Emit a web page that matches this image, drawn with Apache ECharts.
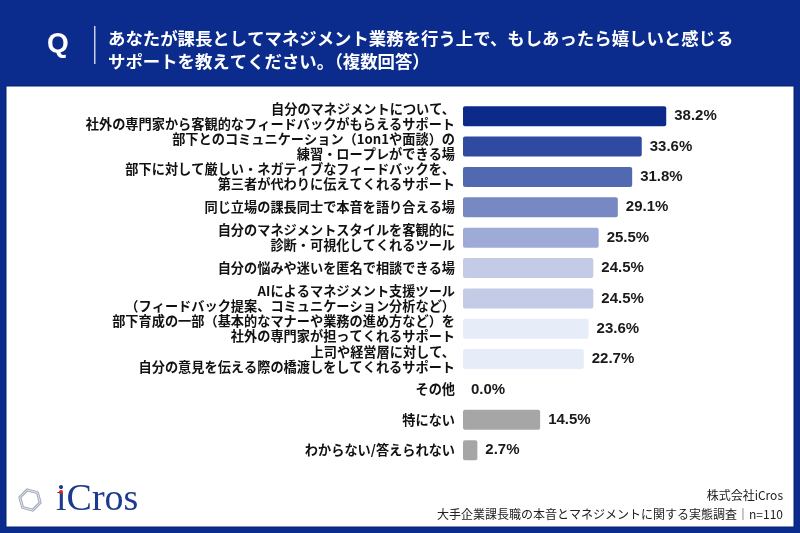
<!DOCTYPE html>
<html>
<head>
<meta charset="utf-8">
<script src="https://cdn.jsdelivr.net/npm/echarts@6/dist/echarts.min.js"></script>
<style>
	html, body { margin: 0; padding: 0; background: #0b2c8c; }
	#chart { width: 800px; height: 533px; }
</style>
</head>
<body>
<div id="chart"></div>
<script>
	const categories = [
		'自分のマネジメントについて、\n社外の専門家から客観的なフィードバックがもらえるサポート',
		'部下とのコミュニケーション（1on1や面談）の\n練習・ロープレができる場',
		'部下に対して厳しい・ネガティブなフィードバックを、\n第三者が代わりに伝えてくれるサポート',
		'同じ立場の課長同士で本音を語り合える場',
		'自分のマネジメントスタイルを客観的に\n診断・可視化してくれるツール',
		'自分の悩みや迷いを匿名で相談できる場',
		'AIによるマネジメント支援ツール\n（フィードバック提案、コミュニケーション分析など）',
		'部下育成の一部（基本的なマナーや業務の進め方など）を\n社外の専門家が担ってくれるサポート',
		'上司や経営層に対して、\n自分の意見を伝える際の橋渡しをしてくれるサポート',
		'その他',
		'特にない',
		'わからない/答えられない'
	]
	const values = [38.2, 33.6, 31.8, 29.1, 25.5, 24.5, 24.5, 23.6, 22.7, 0.0, 14.5, 2.7]
	const barColors = ['#0c2a8a', '#2f4ba1', '#5169b0', '#7888c2', '#9eabd6', '#c3cbe6', '#c3cbe6',
		'#e6ecf8', '#e6ecf8', '#e6ecf8', '#a6a6a6', '#a6a6a6']

	const titleLines = [
		'あなたが課長としてマネジメント業務を行う上で、もしあったら嬉しいと感じる',
		'サポートを教えてください。（複数回答）'
	]
	const footerLines = ['株式会社iCros', '大手企業課長職の本音とマネジメントに関する実態調査｜n=110']

	const jp = '"Noto Sans CJK JP", "Noto Sans", sans-serif'

	// 六角形ロゴの頂点
	const hex = (cx, cy, r) => {
		let pts = []
		for (let i = 0; i < 6; i++) {
			let a = Math.PI / 180 * (60 * i + 15)
			pts.push([cx + r * Math.cos(a), cy + r * Math.sin(a)])
		}
		return pts
	}

	const chart = echarts.init(document.getElementById('chart'))
	const option = {
		backgroundColor: '#0b2c8c',
		animation: false,
		graphic: [
			// 白いパネル
			{ type: 'rect', z: -10, shape: { x: 6, y: 86, width: 788, height: 441 }, style: { fill: '#ffffff', stroke: '#06206e', lineWidth: 1 } },
			{ type: 'text', left: 47, top: 30, style: { text: 'Q', fill: '#fff', font: 'bold 28px "Liberation Sans", sans-serif' } },
			{ type: 'rect', shape: { x: 94, y: 26, width: 1.5, height: 38 }, style: { fill: '#c8d0ee' } },
			{ type: 'text', left: 108, top: 27, style: { text: titleLines.join('\n'), fill: '#fff', font: 'bold 17.4px ' + jp, lineHeight: 23 } },
			// ロゴ
			{ type: 'polygon', shape: { points: hex(30, 500, 10.5) }, style: { fill: 'none', stroke: '#a3abbb', lineWidth: 3, lineJoin: 'round' } },
			{ type: 'polygon', shape: { points: hex(30, 500, 10.5) }, style: { fill: 'none', stroke: '#e4e8f0', lineWidth: 1, lineJoin: 'round' } },
			{ type: 'text', left: 56, top: 481, style: { text: 'iCros', fill: '#1d3a8e', font: '38px "Liberation Serif", "DejaVu Serif", serif' } },
			{ type: 'circle', shape: { cx: 61, cy: 492, r: 2 }, style: { fill: '#e0201a' } },
			{ type: 'text', right: 17, top: 489, style: { text: footerLines[0], fill: '#222', font: '12px ' + jp } },
			{ type: 'text', right: 17, top: 508, style: { text: footerLines[1], fill: '#222', font: '12px ' + jp } }
		],
		grid: { left: 463, top: 101, right: 71, height: 364.4 },
		xAxis: { type: 'value', min: 0, max: 50, show: false },
		yAxis: {
			type: 'category',
			inverse: true,
			data: categories,
			axisLine: { show: false },
			axisTick: { show: false },
			axisLabel: { margin: 8, color: '#111', fontSize: 13.2, fontWeight: 'bold', lineHeight: 15, fontFamily: jp, align: 'right' }
		},
		series: [{
			type: 'bar',
			data: values.map((v, i) => ({ value: v, itemStyle: { color: barColors[i] } })),
			barWidth: 20,
			itemStyle: { borderRadius: 2 },
			label: {
				show: true,
				position: 'right',
				distance: 8,
				color: '#1a1a1a',
				fontSize: 15,
				fontWeight: 'bold',
				fontFamily: '"Liberation Sans", sans-serif',
				formatter: p => p.value.toFixed(1) + '%'
			}
		}]
	}
	chart.setOption(option)
	window.onresize = () => {
		chart.resize()
	}
</script>
</body>
</html>
